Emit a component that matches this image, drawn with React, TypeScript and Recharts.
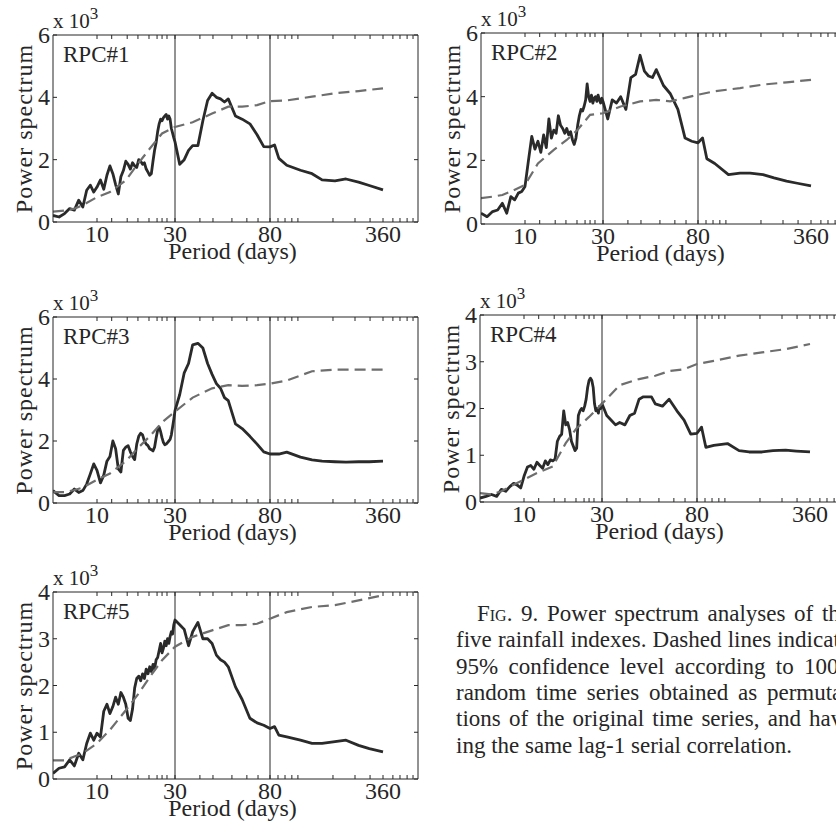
import React from 'react';
import { LineChart, Line, XAxis, YAxis, ReferenceLine } from 'recharts';

const FONT = '"Liberation Serif", "Times New Roman", serif';
const INK = '#262626';

// The period axis of the original figure is stretched piecewise between the labelled periods,
// so positions are interpolated in log(period) between these anchors.
const axisPeriods = [5, 10, 30, 80, 360, 570];
const axisSpots = [0, 44, 122, 217, 330, 365];

const majorPeriods = [10, 30, 80, 360];
const minorPeriods = [12.3, 15.3, 17.8, 20.8, 23.3, 25, 26.8, 38.8, 44.4, 54, 63, 70.7, 89, 97.7, 107, 116, 185, 248, 303, 410, 450, 494, 534];
const bandPeriods = [30, 80];

// power spectrum (x 10^3), sampled at these periods
const spectrumPeriods = [
  5, 5.5, 6, 6.5, 7, 7.5, 8, 8.5, 9, 9.5, 10,
  10.5, 11, 11.5, 12, 12.5, 13, 13.5, 14, 14.5, 15, 15.5, 16, 16.5, 17, 17.5, 18, 18.5, 19, 19.5, 20,
  20.5, 21, 21.5, 22, 22.5, 23, 23.5, 24, 24.5, 25, 25.5, 26, 26.5, 27, 27.5, 28, 28.5, 29, 29.5, 30,
  31.5, 33, 34.5, 36, 38, 40, 42, 44, 46, 48, 50, 52, 56, 60, 65, 70, 75, 80,
  85, 90, 100, 120, 140, 160, 190, 220, 260, 300, 360,
];
const rpc1Power = [
  0.21, 0.16, 0.27, 0.43, 0.38, 0.7, 0.48, 1.02, 1.18, 0.96, 1.12,
  1.35, 1.05, 1.5, 1.8, 1.55, 1.2, 0.9, 1.45, 1.65, 1.95, 1.85, 1.7, 1.9, 1.8, 1.75, 2.0, 1.95, 1.85, 1.9, 1.7,
  1.6, 1.5, 1.55, 1.95, 2.3, 2.55, 2.9, 3.15, 3.3, 3.25, 3.35, 3.4, 3.45, 3.3, 3.4, 3.3, 3.0, 2.85, 2.7, 2.57,
  1.85, 2.0, 2.3, 2.45, 2.45, 3.25, 3.9, 4.13, 4.0, 3.95, 3.85, 3.95, 3.4, 3.3, 3.15, 2.8, 2.42, 2.41,
  2.47, 2.04, 1.82, 1.66, 1.55, 1.35, 1.32, 1.38, 1.28, 1.17, 1.03,
];
const rpc2Power = [
  0.34, 0.23, 0.39, 0.44, 0.65, 0.34, 0.86, 0.76, 0.97, 1.02, 1.18,
  2.0, 2.75, 2.35, 2.6, 2.25, 2.8, 2.4, 3.3, 2.7, 2.95, 2.85, 3.4, 3.1, 3.0, 2.85, 3.0, 2.8, 2.9, 2.65, 2.5,
  2.7, 3.1, 3.4, 3.6, 3.55, 3.7, 3.9, 4.4, 4.0, 3.85, 4.05, 3.8, 3.95, 4.0, 3.85, 4.05, 3.9, 3.8, 3.95, 3.85,
  3.3, 3.9, 3.8, 4.0, 3.6, 4.6, 4.7, 5.3, 4.8, 4.65, 4.6, 4.85, 4.35, 4.1, 3.6, 2.7, 2.6, 2.55,
  2.7, 2.05, 1.9, 1.55, 1.6, 1.6, 1.55, 1.45, 1.35, 1.28, 1.2,
];
const rpc3Power = [
  0.4, 0.24, 0.24, 0.29, 0.45, 0.34, 0.4, 0.61, 0.94, 1.26, 1.05,
  0.65, 0.9, 1.35, 1.5, 2.0, 1.75, 1.1, 1.0, 1.7, 1.8, 1.85, 1.65, 1.5, 1.4, 1.9, 2.15, 2.25, 2.2, 2.0, 1.9,
  1.85, 1.75, 1.72, 1.68, 1.8, 2.1, 2.35, 2.45, 2.3, 2.1, 1.95, 1.88, 1.9, 1.95, 2.0, 2.05, 2.2, 2.45, 2.7, 2.98,
  3.5, 4.2, 4.5, 5.1, 5.15, 5.0, 4.5, 4.15, 3.85, 3.7, 3.4, 3.3, 2.55, 2.4, 2.15, 1.9, 1.65, 1.58,
  1.58, 1.58, 1.64, 1.48, 1.39, 1.35, 1.33, 1.32, 1.33, 1.33, 1.35,
];
const rpc4Power = [
  0.085, 0.12, 0.16, 0.12, 0.27, 0.23, 0.33, 0.4, 0.36, 0.3, 0.55,
  0.75, 0.78, 0.7, 0.85, 0.78, 0.72, 0.88, 0.8, 0.9, 0.88, 0.92, 1.3, 1.4, 1.45, 1.95, 1.65, 1.7, 1.55, 1.3, 1.2,
  1.1, 1.15, 1.85, 1.95, 2.0, 1.95, 2.05, 2.2, 2.45, 2.6, 2.65, 2.6, 2.45, 2.1, 1.95, 2.0, 1.9, 2.05, 2.0, 2.1,
  1.85, 1.75, 1.65, 1.7, 1.65, 1.85, 1.9, 2.2, 2.25, 2.25, 2.25, 2.1, 2.05, 2.2, 1.95, 1.75, 1.45, 1.47,
  1.6, 1.17, 1.21, 1.25, 1.1, 1.07, 1.07, 1.1, 1.11, 1.09, 1.07,
];
const rpc5Power = [
  0.12, 0.23, 0.26, 0.41, 0.28, 0.55, 0.41, 0.76, 0.98, 0.83, 0.98,
  0.9, 1.45, 1.6, 1.4, 1.55, 1.75, 1.6, 1.85, 1.75, 1.6, 1.3, 1.25, 1.5, 1.95, 2.15, 2.2, 2.1, 2.25, 2.15, 2.35,
  2.25, 2.4, 2.3, 2.45, 2.35, 2.55, 2.6, 2.75, 2.9, 2.7, 2.8, 2.95, 2.85, 3.0, 2.9, 3.05, 3.15, 3.1, 3.3, 3.4,
  3.3, 3.2, 2.85, 3.15, 3.35, 3.0, 3.0, 2.9, 2.65, 2.55, 2.5, 2.4, 1.97, 1.7, 1.3, 1.2, 1.15, 1.08,
  1.12, 0.94, 0.9, 0.83, 0.76, 0.76, 0.8, 0.83, 0.72, 0.65, 0.58,
];

// 95% confidence level (x 10^3)
const levelPeriods = [5, 6, 7, 8, 10, 12, 15, 18, 21, 25, 30, 36, 44, 52, 60, 70, 80, 100, 140, 190, 260, 360];
const rpc1Level = [0.33, 0.37, 0.43, 0.54, 0.8, 0.96, 1.34, 1.9, 2.35, 2.84, 3.05, 3.2, 3.48, 3.7, 3.7, 3.75, 3.88, 3.9, 4.02, 4.13, 4.2, 4.29];
const rpc2Level = [0.81, 0.86, 0.91, 1.02, 1.23, 1.9, 2.33, 2.64, 2.96, 3.43, 3.48, 3.69, 3.85, 3.9, 3.85, 3.96, 4.06, 4.17, 4.27, 4.38, 4.45, 4.53];
const rpc3Level = [0.35, 0.35, 0.42, 0.5, 0.75, 0.95, 1.35, 1.8, 2.15, 2.6, 2.95, 3.4, 3.7, 3.8, 3.78, 3.8, 3.85, 3.95, 4.25, 4.3, 4.3, 4.3];
const rpc4Level = [0.19, 0.16, 0.23, 0.33, 0.48, 0.62, 0.76, 1.26, 1.58, 1.82, 2.1, 2.5, 2.63, 2.7, 2.8, 2.84, 2.95, 3.02, 3.13, 3.2, 3.27, 3.38];
const rpc5Level = [0.4, 0.4, 0.48, 0.55, 0.76, 1.05, 1.47, 1.83, 2.18, 2.54, 2.83, 3.04, 3.18, 3.29, 3.29, 3.32, 3.43, 3.57, 3.68, 3.72, 3.82, 3.93];

const captionLines = [
  'Power spectrum analyses of the',
  'five rainfall indexes. Dashed lines indicate',
  '95% confidence level according to 1000',
  'random time series obtained as permuta-',
  'tions of the original time series, and hav-',
  'ing the same lag-1 serial correlation.',
];

function periodToX(p: number): number {
  for (let i = 1; i < axisPeriods.length; i++) {
    if (p <= axisPeriods[i] || i === axisPeriods.length - 1) {
      const a = Math.log(axisPeriods[i - 1]);
      const b = Math.log(axisPeriods[i]);
      const t = (Math.log(p) - a) / (b - a);
      return axisSpots[i - 1] + t * (axisSpots[i] - axisSpots[i - 1]);
    }
  }
  return 0;
}

const xTicks = [...majorPeriods, ...minorPeriods].map(periodToX).sort((a, b) => a - b);
const X_MAX = axisSpots[axisSpots.length - 1];
const TICK = 4;

function majorLabel(v: number): string | null {
  const hit = majorPeriods.find((p) => Math.abs(periodToX(p) - v) < 1e-6);
  return hit === undefined ? null : String(hit);
}

function BottomTick(props: any) {
  const { x, y, payload } = props;
  const label = majorLabel(payload.value);
  return (
    <g>
      <line x1={x} x2={x} y1={y} y2={y - TICK} stroke={INK} strokeWidth={1} />
      {label && (
        <text x={x} y={y + 20} textAnchor="middle" fontFamily={FONT} fontSize={24} fill={INK}>
          {label}
        </text>
      )}
    </g>
  );
}

function TopTick(props: any) {
  const { x, y } = props;
  return <line x1={x} x2={x} y1={y} y2={y + TICK} stroke={INK} strokeWidth={1} />;
}

function LeftTick(props: any) {
  const { x, y, payload } = props;
  return (
    <g>
      <line x1={x} x2={x + TICK} y1={y} y2={y} stroke={INK} strokeWidth={1} />
      <text x={x - 3} y={y + 8} textAnchor="end" fontFamily={FONT} fontSize={24} fill={INK}>
        {payload.value}
      </text>
    </g>
  );
}

function RightTick(props: any) {
  const { x, y } = props;
  return <line x1={x - TICK} x2={x} y1={y} y2={y} stroke={INK} strokeWidth={1} />;
}

interface PanelProps {
  name: string;
  power: number[];
  level: number[];
  yMax: number;
  yTicks: number[];
  left: number;
  top: number;
  plotH: number;
}

const PAD_L = 60;
const PAD_T = 40;
const PLOT_W = 365;

function Panel({ name, power, level, yMax, yTicks, left, top, plotH }: PanelProps) {
  const w = PAD_L + PLOT_W + 6;
  const h = PAD_T + plotH + 50;
  const powerData = spectrumPeriods.map((p, i) => ({ x: periodToX(p), y: power[i] }));
  const levelData = levelPeriods.map((p, i) => ({ x: periodToX(p), y: level[i] }));
  const axisLine = { stroke: INK, strokeWidth: 1 };

  return (
    <div style={{ position: 'absolute', left: left - PAD_L, top: top - PAD_T, width: w, height: h }}>
      <LineChart width={w} height={h} margin={{ top: PAD_T - 1, right: 5, left: PAD_L - 40, bottom: 5 }}>
        <XAxis
          xAxisId="b"
          type="number"
          dataKey="x"
          domain={[0, X_MAX]}
          allowDataOverflow
          ticks={xTicks}
          interval={0}
          height={45}
          tickLine={false}
          tickSize={0}
          tickMargin={0}
          axisLine={axisLine}
          tick={BottomTick}
        />
        <XAxis
          xAxisId="t"
          orientation="top"
          type="number"
          dataKey="x"
          domain={[0, X_MAX]}
          allowDataOverflow
          ticks={xTicks}
          interval={0}
          height={1}
          tickLine={false}
          tickSize={0}
          tickMargin={0}
          axisLine={axisLine}
          tick={TopTick}
        />
        <YAxis
          yAxisId="l"
          type="number"
          domain={[0, yMax]}
          allowDataOverflow
          ticks={yTicks}
          interval={0}
          width={40}
          tickLine={false}
          tickSize={0}
          tickMargin={0}
          axisLine={axisLine}
          tick={LeftTick}
        />
        <YAxis
          yAxisId="r"
          orientation="right"
          type="number"
          domain={[0, yMax]}
          allowDataOverflow
          ticks={yTicks}
          interval={0}
          width={1}
          tickLine={false}
          tickSize={0}
          tickMargin={0}
          axisLine={axisLine}
          tick={RightTick}
        />
        {bandPeriods.map((p) => (
          <ReferenceLine key={p} xAxisId="b" yAxisId="l" x={periodToX(p)} stroke={INK} strokeWidth={1} />
        ))}
        <Line
          xAxisId="b"
          yAxisId="l"
          data={powerData}
          dataKey="y"
          type="linear"
          stroke="#2a2a2a"
          strokeWidth={2.8}
          strokeLinejoin="round"
          dot={false}
          isAnimationActive={false}
        />
        <Line
          xAxisId="b"
          yAxisId="l"
          data={levelData}
          dataKey="y"
          type="linear"
          stroke="#6e6e6e"
          strokeWidth={2.2}
          strokeDasharray="11 6"
          dot={false}
          isAnimationActive={false}
        />
      </LineChart>
      <svg
        width={w}
        height={h}
        style={{ position: 'absolute', left: 0, top: 0, overflow: 'visible', pointerEvents: 'none' }}
      >
        <text x={PAD_L} y={PAD_T - 7} fontFamily={FONT} fontSize={21} fill={INK}>
          x 10
          <tspan dy={-9} fontSize={17}>
            3
          </tspan>
        </text>
        <text x={PAD_L + 10} y={PAD_T + 27} fontFamily={FONT} fontSize={23} fill={INK}>
          {name}
        </text>
        <text
          transform={`translate(${PAD_L - 21}, ${PAD_T + plotH / 2}) rotate(-90)`}
          textAnchor="middle"
          fontFamily={FONT}
          fontSize={24}
          letterSpacing={1}
          fill={INK}
        >
          Power spectrum
        </text>
        <text
          x={PAD_L + PLOT_W / 2 - 3}
          y={PAD_T + plotH + 37}
          textAnchor="middle"
          fontFamily={FONT}
          fontSize={24}
          fill={INK}
        >
          Period (days)
        </text>
      </svg>
    </div>
  );
}

export default function App() {
  const big = [0, 2, 4, 6];
  const small = [0, 1, 2, 3, 4];
  return (
    <div
      style={{
        position: 'absolute',
        left: 0,
        top: 0,
        width: 836,
        height: 829,
        overflow: 'hidden',
        background: '#fff',
        fontFamily: FONT,
        color: INK,
      }}
    >
      <Panel name="RPC#1" power={rpc1Power} level={rpc1Level} yMax={6} yTicks={big} left={53} top={35} plotH={187} />
      <Panel name="RPC#2" power={rpc2Power} level={rpc2Level} yMax={6} yTicks={big} left={481} top={33} plotH={191} />
      <Panel name="RPC#3" power={rpc3Power} level={rpc3Level} yMax={6} yTicks={big} left={53} top={317} plotH={186} />
      <Panel name="RPC#4" power={rpc4Power} level={rpc4Level} yMax={4} yTicks={small} left={480} top={315} plotH={187} />
      <Panel name="RPC#5" power={rpc5Power} level={rpc5Level} yMax={4} yTicks={small} left={53} top={592} plotH={187} />
      {captionLines.map((line, i) => (
        <div
          key={i}
          style={{
            position: 'absolute',
            left: i === 0 ? 477 : 456,
            top: 601 + i * 26.3,
            width: i === 0 ? 373 : 394,
            fontSize: 23,
            lineHeight: '26.5px',
            whiteSpace: 'nowrap',
            textAlign: 'justify',
            textAlignLast: i === captionLines.length - 1 ? 'left' : 'justify',
          }}
        >
          {i === 0 && (
            <>
              <span style={{ fontVariant: 'small-caps' }}>Fig.</span> 9.{' '}
            </>
          )}
          {line}
        </div>
      ))}
    </div>
  );
}
